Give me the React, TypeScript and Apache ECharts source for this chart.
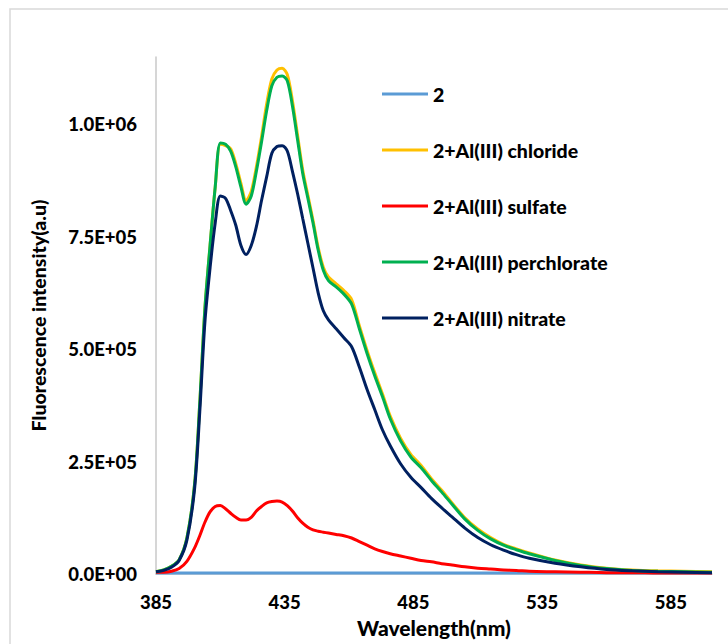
import React, { useEffect, useRef } from "react";
import * as echarts from "echarts";

// Wavelengths (nm) sampled from the reference spectra
const WAVELENGTHS = [
  385, 388, 391, 394, 397, 400, 402, 404, 406, 408, 410, 412, 414, 416, 418, 420,
  422, 424, 426, 428, 430, 432, 434, 436, 438, 440, 442, 444, 446, 448, 450, 452,
  455, 458, 461, 464, 467, 470, 473, 476, 480, 484, 488, 492, 496, 500, 505, 510,
  515, 520, 525, 530, 540, 550, 560, 570, 580, 590, 601,
];

// Intensities in units of 1e3 (a.u.)
const LIGAND_2 = [
  2, 2, 2, 2, 2, 2, 2, 2, 2, 2, 2, 2, 2, 2, 2, 2,
  2, 2, 2, 2, 2, 2, 2, 2, 2, 2, 2, 2, 2, 2, 2, 2,
  2, 2, 2, 2, 2, 2, 2, 2, 2, 2, 2, 2, 2, 2, 2, 2,
  2, 2, 2, 2, 2, 2, 2, 2, 2, 2, 2,
];

const CHLORIDE = [
  5, 9, 17, 32, 80, 200, 380, 590, 730, 860, 955, 952, 945, 912, 868, 830,
  850, 905, 972, 1045, 1100, 1120, 1124, 1110, 1052, 975, 898, 842, 786, 726, 682, 660,
  645, 630, 610, 552, 497, 447, 400, 351, 302, 266, 241, 212, 186, 158, 125, 100,
  81, 66, 56, 47, 31, 20, 13, 9, 7, 6, 5,
];

const SULFATE = [
  4, 4, 6, 12, 28, 58, 85, 115, 138, 150, 152, 145, 135, 126, 120, 120,
  126, 140, 150, 158, 161, 162, 160, 152, 140, 125, 113, 104, 98, 95, 93, 91,
  88, 85, 80, 72, 64, 56, 50, 45, 40, 35, 30, 27, 23, 20, 16, 13,
  11, 9, 8, 6, 5, 4, 3, 3, 2, 2, 2,
];

const PERCHLORATE = [
  5, 9, 17, 32, 80, 200, 380, 590, 730, 860, 958, 955, 940, 905, 860, 822,
  840, 895, 960, 1030, 1085, 1104, 1107, 1096, 1040, 965, 890, 835, 780, 720, 675, 652,
  638, 622, 600, 545, 490, 440, 394, 345, 296, 260, 236, 208, 182, 155, 122, 97,
  78, 64, 54, 45, 30, 19, 12, 8, 6, 5, 4,
];

const NITRATE = [
  5, 8, 15, 30, 75, 190, 360, 560, 680, 780, 840, 835, 808, 775, 730, 710,
  730, 772, 830, 883, 935, 950, 952, 940, 895, 845, 790, 735, 680, 625, 585, 565,
  545, 525, 505, 460, 410, 365, 320, 285, 245, 215, 192, 168, 147, 127, 102, 81,
  65, 53, 43, 35, 24, 16, 10, 7, 5, 4, 3,
];

const SERIES_NAMES = [
  "2",
  "2+Al(III) chloride",
  "2+Al(III) sulfate",
  "2+Al(III) perchlorate",
  "2+Al(III) nitrate",
];
const SERIES_VALUES = [LIGAND_2, CHLORIDE, SULFATE, PERCHLORATE, NITRATE];
const SERIES_COLORS = ["#5B9BD5", "#FFC000", "#FF0000", "#00B050", "#002060"];

const X_START = 385;
const X_END = 601;
const X_STEP = 50;
const Y_MAX = 1.149e6;
const Y_STEP = 2.5e5;

const FONT = "Lato, 'Open Sans', sans-serif";

function sci(v: number): string {
  const [m, e] = v.toExponential(1).split("e");
  const sign = e[0] === "-" ? "-" : "+";
  const digits = e.replace(/^[+-]/, "").padStart(2, "0");
  return `${m.toUpperCase()}E${sign}${digits}`;
}

export default function App() {
  const ref = useRef<HTMLDivElement>(null);

  useEffect(() => {
    document.body.style.margin = "0";
    if (!ref.current) return;
    const chart = echarts.init(ref.current, undefined, { renderer: "svg" });

    const series = SERIES_NAMES.map((name, i) => ({
      name,
      type: "line",
      data: WAVELENGTHS.map((w, j) => [w - X_START, SERIES_VALUES[i][j] * 1000]),
      smooth: 0.3,
      showSymbol: false,
      symbol: "none",
      lineStyle: { color: SERIES_COLORS[i], width: 3 },
      itemStyle: { color: SERIES_COLORS[i] },
    }));

    chart.setOption({
      animation: false,
      backgroundColor: "#ffffff",
      grid: { left: 156, right: 16, top: 57, bottom: 70, containLabel: false },
      graphic: [
        {
          type: "rect",
          shape: { x: 10, y: 9, width: 800, height: 800 },
          style: { fill: "none", stroke: "#d9d9d9", lineWidth: 1.5 },
          silent: true,
        },
      ],
      legend: {
        orient: "vertical",
        left: 382,
        top: 83,
        padding: 0,
        icon: "rect",
        itemWidth: 46,
        itemHeight: 3,
        itemGap: 34,
        data: SERIES_NAMES,
        textStyle: {
          fontFamily: FONT,
          fontWeight: 900,
          fontSize: 19.5,
          color: "#000",
          lineHeight: 22,
        },
      },
      xAxis: {
        type: "value",
        min: 0,
        max: X_END - X_START,
        interval: X_STEP,
        name: "Wavelength(nm)",
        nameLocation: "middle",
        nameGap: 43,
        nameTextStyle: { fontFamily: FONT, fontWeight: 900, fontSize: 21, color: "#000" },
        axisLine: { show: true, lineStyle: { color: "#c8c8c8", width: 1.5 } },
        axisTick: { show: false },
        splitLine: { show: false },
        axisLabel: {
          showMaxLabel: false,
          margin: 18,
          fontFamily: FONT,
          fontWeight: 900,
          fontSize: 18.5,
          color: "#000",
          formatter: (v: number) => String(v + X_START),
        },
      },
      yAxis: {
        type: "value",
        min: 0,
        max: Y_MAX,
        interval: Y_STEP,
        name: "Fluorescence intensity(a.u)",
        nameLocation: "middle",
        nameGap: 108,
        nameTextStyle: { fontFamily: FONT, fontWeight: 900, fontSize: 19.5, color: "#000" },
        axisLine: { show: true, lineStyle: { color: "#c8c8c8", width: 1.5 } },
        axisTick: { show: false },
        splitLine: { show: false },
        axisLabel: {
          showMaxLabel: false,
          margin: 19,
          fontFamily: FONT,
          fontWeight: 900,
          fontSize: 18.5,
          color: "#000",
          formatter: (v: number) => sci(v),
        },
      },
      series,
    });

    return () => chart.dispose();
  }, []);

  return <div ref={ref} style={{ width: 728, height: 644 }} />;
}
